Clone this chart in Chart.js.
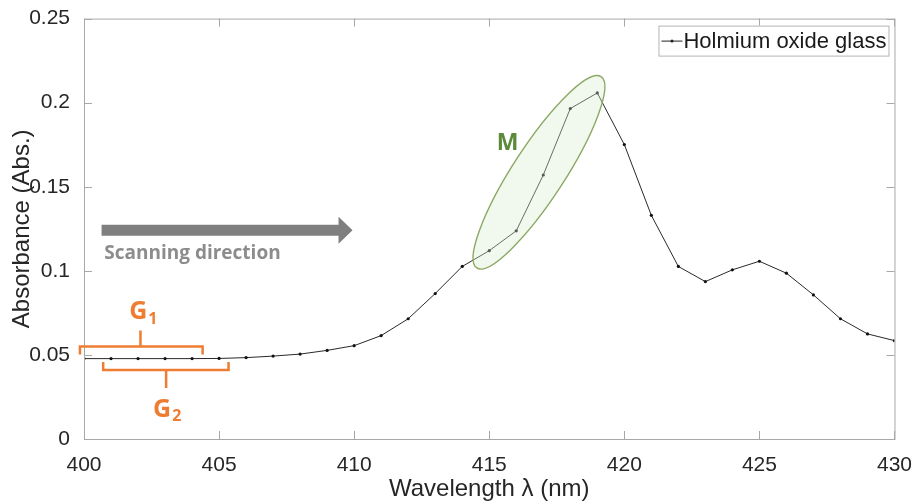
<!DOCTYPE html>
<html>
<head>
<meta charset="utf-8">
<script src="https://cdn.jsdelivr.net/npm/chart.js@4"></script>
<style>
  html, body { margin: 0; padding: 0; background: #fff; }
  #wrap { width: 918px; height: 504px; }
</style>
</head>
<body>
<div id="wrap"><canvas id="myChart" width="918" height="504"></canvas></div>
<script>
"use strict"

// wavelength (nm) and absorbance
const wavelengths = [400, 401, 402, 403, 404, 405, 406, 407, 408, 409, 410,
  411, 412, 413, 414, 415, 416, 417, 418, 419, 420,
  421, 422, 423, 424, 425, 426, 427, 428, 429, 430];
const absorbance = [0.0478, 0.0478, 0.0478, 0.0478, 0.0478, 0.0479, 0.0484, 0.0493, 0.0505, 0.0527, 0.0555,
  0.0615, 0.0715, 0.0865, 0.1026, 0.1120, 0.1238, 0.1570, 0.1965, 0.2058, 0.1751,
  0.1330, 0.1026, 0.0936, 0.1006, 0.1057, 0.0986, 0.0857, 0.0715, 0.0625, 0.0585];
const xTicks = [400, 405, 410, 415, 420, 425, 430];
const yTicks = [0, 0.05, 0.1, 0.15, 0.2, 0.25];
const yTickLabels = ["0", "0.05", "0.1", "0.15", "0.2", "0.25"];
const seriesName = "Holmium oxide glass";

const tickFont = "'Liberation Sans', Arial, sans-serif";
const noteFont = "'Open Sans', 'Noto Sans', sans-serif";
const orange = "#ee7d31";

function drawBracket (c, x1, x2, y, dir, stemX, stemLen) {
  // dir = 1 -> ends point down, stem up ; dir = -1 -> ends up, stem down
  c.beginPath();
  c.moveTo(x1, y + 8 * dir);
  c.lineTo(x1, y);
  c.lineTo(x2, y);
  c.lineTo(x2, y + 8 * dir);
  c.moveTo(stemX, y);
  c.lineTo(stemX, y - stemLen * dir);
  c.stroke();
}

function drawSubLabel (c, main, sub, cx, cy) {
  c.font = "bold 25px " + noteFont;
  const w1 = c.measureText(main).width;
  c.font = "bold 16px " + noteFont;
  const w2 = c.measureText(sub).width;
  const x0 = cx - (w1 + w2) / 2;
  c.textAlign = "left";
  c.textBaseline = "middle";
  c.font = "bold 25px " + noteFont;
  c.fillText(main, x0, cy);
  c.font = "bold 16px " + noteFont;
  c.fillText(sub, x0 + w1 + 1, cy + 7);
}

const framePlugin = {
  id: "frame",
  afterDraw (chart) {
    const c = chart.ctx;
    const a = chart.chartArea;
    const xs = chart.scales.x, ys = chart.scales.y;
    const X = v => xs.getPixelForValue(v);
    const Y = v => ys.getPixelForValue(v);
    c.save();

    // box and inward ticks
    c.strokeStyle = "#a8a8a8";
    c.lineWidth = 1;
    c.strokeRect(a.left + 0.5, a.top + 0.5, a.right - a.left, a.bottom - a.top);
    c.beginPath();
    xTicks.forEach(t => {
      const px = Math.round(X(t)) + 0.5;
      c.moveTo(px, a.bottom); c.lineTo(px, a.bottom - 8);
      c.moveTo(px, a.top); c.lineTo(px, a.top + 8);
    });
    yTicks.forEach(t => {
      const py = Math.round(Y(t)) + 0.5;
      c.moveTo(a.left, py); c.lineTo(a.left + 8, py);
      c.moveTo(a.right, py); c.lineTo(a.right - 8, py);
    });
    c.stroke();

    // legend
    const lx = a.right - 236, ly = a.top + 7;
    c.fillStyle = "#fff";
    c.fillRect(lx, ly, 230, 30);
    c.strokeStyle = "#b4b4b4";
    c.strokeRect(lx + 0.5, ly + 0.5, 230, 30);
    c.strokeStyle = "#222";
    c.beginPath();
    c.moveTo(lx + 3, ly + 15.5); c.lineTo(lx + 24, ly + 15.5);
    c.stroke();
    c.fillStyle = "#222";
    c.beginPath(); c.arc(lx + 13.5, ly + 15.5, 1.5, 0, Math.PI * 2); c.fill();
    c.fillStyle = "#1a1a1a";
    c.font = "22px " + tickFont;
    c.textAlign = "left";
    c.textBaseline = "middle";
    c.fillText(seriesName, lx + 25, ly + 16);

    // scanning direction arrow
    const ax1 = X(400.65), ax2 = X(409.94), ay = Y(0.1241);
    c.fillStyle = "#7f7f7f";
    c.beginPath();
    c.moveTo(ax1, ay - 5.5);
    c.lineTo(ax2 - 14, ay - 5.5);
    c.lineTo(ax2 - 14, ay - 13.5);
    c.lineTo(ax2, ay);
    c.lineTo(ax2 - 14, ay + 13.5);
    c.lineTo(ax2 - 14, ay + 5.5);
    c.lineTo(ax1, ay + 5.5);
    c.closePath();
    c.fill();
    c.fillStyle = "#8c8c8c";
    c.font = "bold 19px " + noteFont;
    c.fillText("Scanning direction", X(400.75), Y(0.1100));

    // ellipse M
    c.beginPath();
    c.ellipse(X(416.84), Y(0.1586), 114, 26, -57 * Math.PI / 180, 0, Math.PI * 2);
    c.fillStyle = "rgba(216, 234, 204, 0.35)";
    c.fill();
    c.strokeStyle = "#8ba864";
    c.lineWidth = 1.4;
    c.stroke();
    c.fillStyle = "#5b8a3a";
    c.font = "bold 23px " + noteFont;
    c.textAlign = "center";
    c.fillText("M", X(415.68), Y(0.1757));

    // G1 / G2 brackets
    c.strokeStyle = orange;
    c.fillStyle = orange;
    c.lineWidth = 2.5;
    drawBracket(c, X(399.85), X(404.39), Y(0.0550), 1, X(402.09), 16);
    drawBracket(c, X(400.71), X(405.35), Y(0.0411), -1, X(403.04), 18);
    drawSubLabel(c, "G", "1", X(402.18), Y(0.0755));
    drawSubLabel(c, "G", "2", X(403.06), Y(0.0175));

    c.restore();
  }
};

const ctx = document.getElementById("myChart");
new Chart(ctx, {
  type: "line",
  data: {
    datasets: [{
      label: seriesName,
      data: wavelengths.map((w, i) => ({ x: w, y: absorbance[i] })),
      borderColor: "#2a2a2a",
      borderWidth: 1,
      backgroundColor: "#111",
      pointRadius: 1.6,
      pointBorderWidth: 0,
      tension: 0,
    }]
  },
  options: {
    responsive: false,
    animation: false,
    layout: { padding: { top: 15, right: 19, left: 0, bottom: 0 } },
    plugins: {
      legend: { display: false },
      tooltip: { enabled: false },
    },
    scales: {
      x: {
        type: "linear",
        min: 400,
        max: 430,
        afterFit: s => { s.height = 65; },
        afterBuildTicks: s => { s.ticks = xTicks.map(v => ({ value: v })); },
        grid: { display: false },
        border: { display: false },
        ticks: {
          padding: 6,
          color: "#262626",
          font: { family: tickFont, size: 21 },
        },
        title: {
          display: true,
          text: "Wavelength \u03bb (nm)",
          color: "#262626",
          font: { family: tickFont, size: 24 },
          padding: { top: 0, bottom: 0 },
        },
      },
      y: {
        min: 0,
        max: 0.25,
        afterFit: s => { s.width = 84; },
        afterBuildTicks: s => { s.ticks = yTicks.map(v => ({ value: v })); },
        grid: { display: false },
        border: { display: false },
        ticks: {
          padding: 6,
          color: "#262626",
          font: { family: tickFont, size: 21 },
          callback: (v) => {
            const i = yTicks.findIndex(t => Math.abs(t - v) < 1e-9);
            return i >= 0 ? yTickLabels[i] : "";
          },
        },
        title: {
          display: true,
          text: "Absorbance (Abs.)",
          color: "#262626",
          font: { family: tickFont, size: 24 },
          padding: { top: 8, bottom: 0 },
        },
      },
    },
  },
  plugins: [framePlugin],
});
</script>
</body>
</html>
